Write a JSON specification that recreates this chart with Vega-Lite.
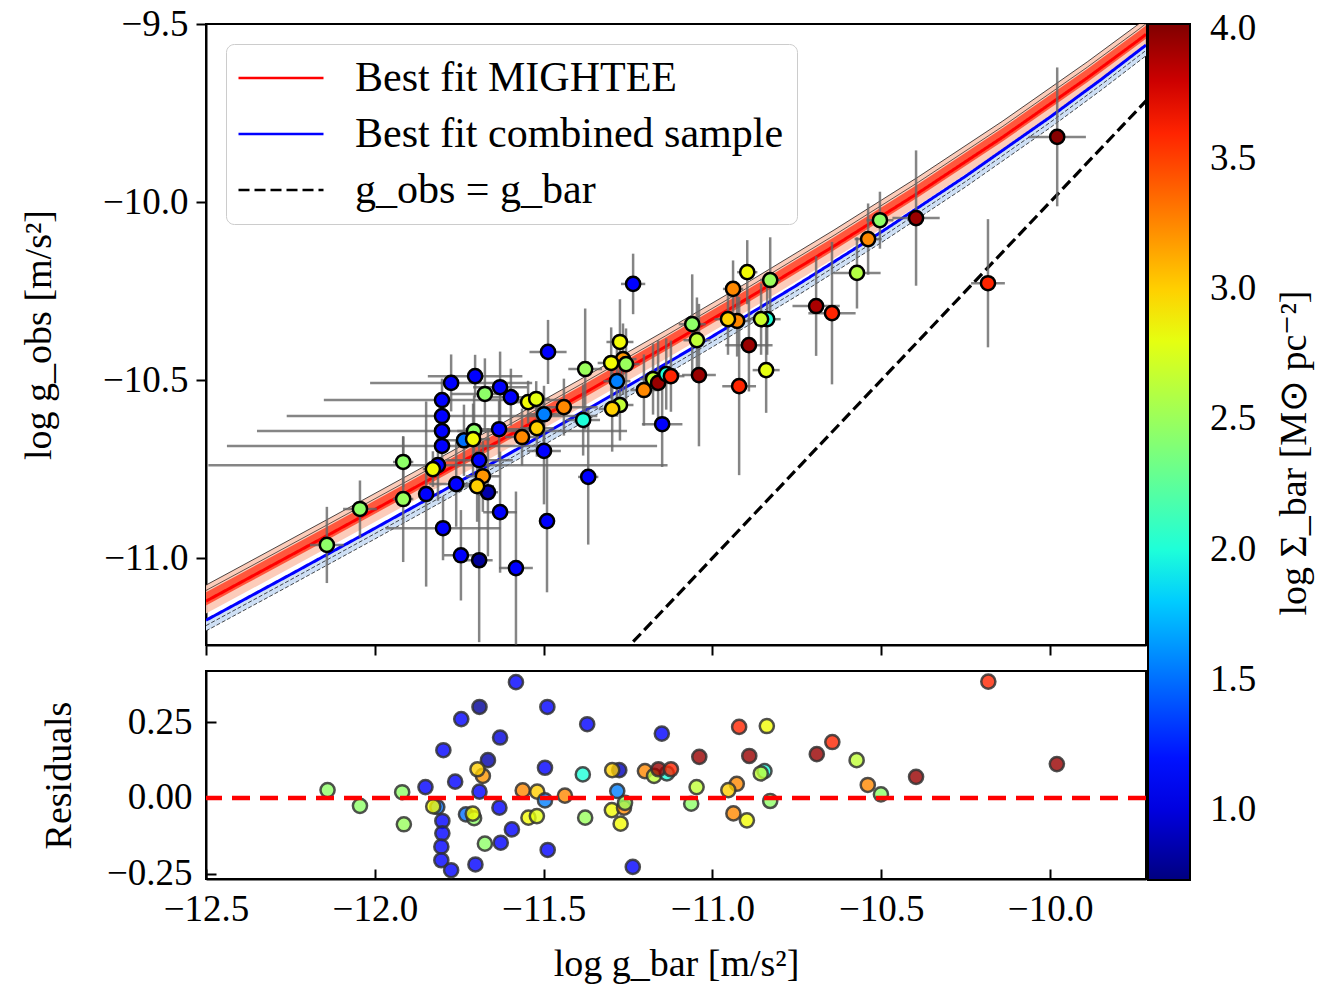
{
  "$schema": "https://vega.github.io/schema/vega-lite/v6.json",
  "background": "white",
  "padding": {"left": 19, "top": 4, "right": 5, "bottom": 5},
  "config": {
    "font": "Liberation Serif",
    "view": {"stroke": "black", "strokeWidth": 2},
    "axis": {"domainColor": "black", "domainWidth": 2, "tickColor": "black", "tickWidth": 2, "labelColor": "black", "titleColor": "black", "labelFontSize": 37, "titleFontSize": 38, "titleFontWeight": "normal", "grid": false, "labelFlush": false},
    "legend": {"labelFont": "Liberation Serif", "titleFont": "Liberation Serif", "labelColor": "black", "titleColor": "black"}
  },
  "datasets": {
    "redfit": [
      {"x": -12.5, "y": -11.1208, "a": -11.0758, "b": -11.0908, "c": -11.1558, "d": -11.0958, "e": -11.1328},
      {"x": -12.39, "y": -11.0645, "a": -11.0195, "b": -11.0345, "c": -11.0995, "d": -11.0395, "e": -11.0765},
      {"x": -12.14, "y": -10.9361, "a": -10.8911, "b": -10.9061, "c": -10.9711, "d": -10.9111, "e": -10.9481},
      {"x": -11.89, "y": -10.8064, "a": -10.7614, "b": -10.7764, "c": -10.8414, "d": -10.7814, "e": -10.8184},
      {"x": -11.64, "y": -10.6753, "a": -10.6303, "b": -10.6453, "c": -10.7103, "d": -10.6503, "e": -10.6873},
      {"x": -11.39, "y": -10.5422, "a": -10.4972, "b": -10.5122, "c": -10.5772, "d": -10.5172, "e": -10.5542},
      {"x": -11.14, "y": -10.4064, "a": -10.3614, "b": -10.3764, "c": -10.4414, "d": -10.3814, "e": -10.4184},
      {"x": -10.89, "y": -10.2672, "a": -10.2222, "b": -10.2372, "c": -10.3022, "d": -10.2422, "e": -10.2792},
      {"x": -10.64, "y": -10.1236, "a": -10.0786, "b": -10.0936, "c": -10.1586, "d": -10.0986, "e": -10.1356},
      {"x": -10.39, "y": -9.9741, "a": -9.9291, "b": -9.9441, "c": -10.0091, "d": -9.9491, "e": -9.9861},
      {"x": -10.14, "y": -9.8173, "a": -9.7723, "b": -9.7873, "c": -9.8523, "d": -9.7923, "e": -9.8293},
      {"x": -9.89, "y": -9.6514, "a": -9.6064, "b": -9.6214, "c": -9.6864, "d": -9.6264, "e": -9.6634},
      {"x": -9.74, "y": -9.5466, "a": -9.5016, "b": -9.5166, "c": -9.5816, "d": -9.5216, "e": -9.5586},
      {"x": -9.716, "y": -9.5291, "a": -9.4841, "b": -9.4991, "c": -9.5641, "d": -9.5041, "e": -9.5411}
    ],
    "bluefit": [
      {"x": -12.5, "y": -11.1745, "p": -11.1895, "q": -11.2045},
      {"x": -12.25, "y": -11.0461, "p": -11.0611, "q": -11.0761},
      {"x": -12.0, "y": -10.9164, "p": -10.9314, "q": -10.9464},
      {"x": -11.75, "y": -10.7853, "p": -10.8003, "q": -10.8153},
      {"x": -11.5, "y": -10.6522, "p": -10.6672, "q": -10.6822},
      {"x": -11.25, "y": -10.5164, "p": -10.5314, "q": -10.5464},
      {"x": -11.0, "y": -10.3772, "p": -10.3922, "q": -10.4072},
      {"x": -10.75, "y": -10.2336, "p": -10.2486, "q": -10.2636},
      {"x": -10.5, "y": -10.0841, "p": -10.0991, "q": -10.1141},
      {"x": -10.25, "y": -9.9273, "p": -9.9423, "q": -9.9573},
      {"x": -10.0, "y": -9.7614, "p": -9.7764, "q": -9.7914},
      {"x": -9.85, "y": -9.6566, "p": -9.6716, "q": -9.6866},
      {"x": -9.716, "y": -9.5592, "p": -9.5742, "q": -9.5892}
    ],
    "oneone": [
      {"x": -11.3, "y": -11.3},
      {"x": -9.7, "y": -9.7}
    ],
    "pts": [
      {"x": -12.142, "y": -10.963, "s": 2.45, "ex": 0.05, "ey": 0.107},
      {"x": -12.044, "y": -10.862, "s": 2.45, "ex": 0.05, "ey": 0.08},
      {"x": -11.916, "y": -10.730, "s": 2.45, "ex": 0.03, "ey": 0.07},
      {"x": -11.916, "y": -10.834, "s": 2.5, "ex": 0.03, "ey": 0.177},
      {"x": -11.848, "y": -10.820, "s": 1.12, "ex": 0.0, "ey": 0.26},
      {"x": -11.813, "y": -10.739, "s": 1.12, "ex": 0.68, "ey": 0.1},
      {"x": -11.828, "y": -10.750, "s": 2.85, "ex": 0.03, "ey": 0.05},
      {"x": -11.801, "y": -10.685, "s": 1.12, "ex": 0.637, "ey": 0.06},
      {"x": -11.801, "y": -10.643, "s": 1.12, "ex": 0.548, "ey": 0.06},
      {"x": -11.801, "y": -10.601, "s": 1.12, "ex": 0.46, "ey": 0.06},
      {"x": -11.801, "y": -10.556, "s": 1.12, "ex": 0.35, "ey": 0.06},
      {"x": -11.774, "y": -10.508, "s": 1.12, "ex": 0.24, "ey": 0.08},
      {"x": -11.759, "y": -10.792, "s": 1.12, "ex": 0.08, "ey": 0.12},
      {"x": -11.798, "y": -10.916, "s": 1.12, "ex": 0.17, "ey": 0.09},
      {"x": -11.745, "y": -10.992, "s": 1.12, "ex": 0.05, "ey": 0.127},
      {"x": -11.691, "y": -11.006, "s": 0.8, "ex": 0.04, "ey": 0.23},
      {"x": -11.582, "y": -11.028, "s": 1.12, "ex": 0.05, "ey": 0.215},
      {"x": -11.629, "y": -10.871, "s": 1.12, "ex": 0.05, "ey": 0.17},
      {"x": -11.490, "y": -10.896, "s": 1.12, "ex": 0.0, "ey": 0.2},
      {"x": -11.368, "y": -10.772, "s": 1.12, "ex": 0.03, "ey": 0.19},
      {"x": -11.499, "y": -10.699, "s": 1.12, "ex": 0.05, "ey": 0.15},
      {"x": -11.487, "y": -10.421, "s": 1.12, "ex": 0.055, "ey": 0.09},
      {"x": -11.235, "y": -10.230, "s": 1.12, "ex": 0.036, "ey": 0.085},
      {"x": -11.703, "y": -10.489, "s": 1.12, "ex": 0.14, "ey": 0.06},
      {"x": -11.674, "y": -10.539, "s": 2.45, "ex": 0.1, "ey": 0.1},
      {"x": -11.629, "y": -10.520, "s": 1.12, "ex": 0.08, "ey": 0.1},
      {"x": -11.597, "y": -10.548, "s": 1.12, "ex": 0.06, "ey": 0.08},
      {"x": -11.546, "y": -10.562, "s": 2.85, "ex": 0.04, "ey": 0.06},
      {"x": -11.522, "y": -10.553, "s": 2.8, "ex": 0.04, "ey": 0.05},
      {"x": -11.499, "y": -10.596, "s": 1.55, "ex": 0.05, "ey": 0.08},
      {"x": -11.440, "y": -10.576, "s": 3.25, "ex": 0.1, "ey": 0.08},
      {"x": -11.520, "y": -10.635, "s": 3.0, "ex": 0.05, "ey": 0.08},
      {"x": -11.564, "y": -10.660, "s": 3.25, "ex": 0.05, "ey": 0.08},
      {"x": -11.632, "y": -10.638, "s": 1.12, "ex": 0.1, "ey": 0.08},
      {"x": -11.706, "y": -10.643, "s": 2.45, "ex": 0.05, "ey": 0.1},
      {"x": -11.736, "y": -10.669, "s": 1.5, "ex": 0.05, "ey": 0.1},
      {"x": -11.709, "y": -10.666, "s": 2.85, "ex": 0.05, "ey": 0.1},
      {"x": -11.691, "y": -10.725, "s": 1.12, "ex": 0.1, "ey": 0.1},
      {"x": -11.680, "y": -10.770, "s": 3.2, "ex": 0.05, "ey": 0.1},
      {"x": -11.665, "y": -10.815, "s": 0.85, "ex": 0.03, "ey": 0.18},
      {"x": -11.697, "y": -10.798, "s": 3.0, "ex": 0.05, "ey": 0.1},
      {"x": -11.377, "y": -10.469, "s": 2.5, "ex": 0.05, "ey": 0.17},
      {"x": -11.265, "y": -10.441, "s": 3.2, "ex": 0.04, "ey": 0.1},
      {"x": -11.274, "y": -10.393, "s": 2.85, "ex": 0.04, "ey": 0.12},
      {"x": -11.300, "y": -10.452, "s": 2.85, "ex": 0.04, "ey": 0.1},
      {"x": -11.256, "y": -10.455, "s": 2.5, "ex": 0.04, "ey": 0.1},
      {"x": -11.283, "y": -10.503, "s": 1.55, "ex": 0.04, "ey": 0.1},
      {"x": -11.383, "y": -10.612, "s": 2.0, "ex": 0.05, "ey": 0.1},
      {"x": -11.274, "y": -10.570, "s": 2.65, "ex": 0.04, "ey": 0.1},
      {"x": -11.297, "y": -10.581, "s": 3.0, "ex": 0.04, "ey": 0.12},
      {"x": -11.203, "y": -10.528, "s": 3.25, "ex": 0.04, "ey": 0.1},
      {"x": -11.176, "y": -10.497, "s": 2.65, "ex": 0.04, "ey": 0.1},
      {"x": -11.161, "y": -10.508, "s": 3.95, "ex": 0.04, "ey": 0.12},
      {"x": -11.137, "y": -10.483, "s": 2.0, "ex": 0.04, "ey": 0.1},
      {"x": -11.123, "y": -10.489, "s": 3.6, "ex": 0.04, "ey": 0.1},
      {"x": -11.040, "y": -10.486, "s": 3.95, "ex": 0.05, "ey": 0.2},
      {"x": -11.149, "y": -10.624, "s": 1.12, "ex": 0.06, "ey": 0.12},
      {"x": -11.060, "y": -10.343, "s": 2.45, "ex": 0.04, "ey": 0.14},
      {"x": -11.046, "y": -10.388, "s": 2.65, "ex": 0.04, "ey": 0.12},
      {"x": -10.927, "y": -10.334, "s": 3.25, "ex": 0.04, "ey": 0.1},
      {"x": -10.954, "y": -10.329, "s": 3.0, "ex": 0.04, "ey": 0.1},
      {"x": -10.897, "y": -10.197, "s": 2.85, "ex": 0.03, "ey": 0.09},
      {"x": -10.939, "y": -10.244, "s": 3.25, "ex": 0.03, "ey": 0.08},
      {"x": -10.829, "y": -10.219, "s": 2.5, "ex": 0.03, "ey": 0.12},
      {"x": -10.838, "y": -10.329, "s": 2.0, "ex": 0.04, "ey": 0.1},
      {"x": -10.856, "y": -10.329, "s": 2.7, "ex": 0.04, "ey": 0.1},
      {"x": -10.892, "y": -10.402, "s": 3.95, "ex": 0.07, "ey": 0.13},
      {"x": -10.841, "y": -10.472, "s": 2.8, "ex": 0.04, "ey": 0.12},
      {"x": -10.921, "y": -10.517, "s": 3.6, "ex": 0.05, "ey": 0.25},
      {"x": -10.693, "y": -10.292, "s": 3.9, "ex": 0.07, "ey": 0.14},
      {"x": -10.646, "y": -10.312, "s": 3.6, "ex": 0.07, "ey": 0.2},
      {"x": -10.572, "y": -10.199, "s": 2.6, "ex": 0.07, "ey": 0.1},
      {"x": -10.539, "y": -10.104, "s": 3.25, "ex": 0.04, "ey": 0.1},
      {"x": -10.504, "y": -10.051, "s": 2.45, "ex": 0.04, "ey": 0.08},
      {"x": -10.397, "y": -10.045, "s": 3.95, "ex": 0.07, "ey": 0.19},
      {"x": -10.184, "y": -10.228, "s": 3.6, "ex": 0.05, "ey": 0.18},
      {"x": -9.979, "y": -9.817, "s": 4.0, "ex": 0.085, "ey": 0.195}
    ],
    "res": [
      {"x": -12.140, "r": 0.026, "s": 2.45},
      {"x": -12.044, "r": -0.026, "s": 2.45},
      {"x": -11.919, "r": 0.019, "s": 2.45},
      {"x": -11.914, "r": -0.087, "s": 2.5},
      {"x": -11.850, "r": 0.036, "s": 1.12},
      {"x": -11.815, "r": -0.03, "s": 1.5},
      {"x": -11.827, "r": -0.028, "s": 2.85},
      {"x": -11.800, "r": -0.076, "s": 1.12},
      {"x": -11.800, "r": -0.117, "s": 1.12},
      {"x": -11.803, "r": -0.161, "s": 1.12},
      {"x": -11.803, "r": -0.206, "s": 1.12},
      {"x": -11.774, "r": -0.239, "s": 1.12},
      {"x": -11.797, "r": 0.158, "s": 1.12},
      {"x": -11.762, "r": 0.054, "s": 1.12},
      {"x": -11.744, "r": 0.261, "s": 1.12},
      {"x": -11.690, "r": 0.301, "s": 0.8},
      {"x": -11.665, "r": 0.125, "s": 0.85},
      {"x": -11.680, "r": 0.073, "s": 3.2},
      {"x": -11.696, "r": 0.095, "s": 3.0},
      {"x": -11.690, "r": 0.021, "s": 1.12},
      {"x": -11.730, "r": -0.054, "s": 1.5},
      {"x": -11.706, "r": -0.067, "s": 2.45},
      {"x": -11.710, "r": -0.052, "s": 2.85},
      {"x": -11.674, "r": -0.151, "s": 2.45},
      {"x": -11.702, "r": -0.22, "s": 1.12},
      {"x": -11.631, "r": -0.032, "s": 1.12},
      {"x": -11.629, "r": 0.2, "s": 1.0},
      {"x": -11.627, "r": -0.148, "s": 1.12},
      {"x": -11.594, "r": -0.104, "s": 1.12},
      {"x": -11.582, "r": 0.383, "s": 1.12},
      {"x": -11.562, "r": 0.025, "s": 3.25},
      {"x": -11.545, "r": -0.065, "s": 2.85},
      {"x": -11.520, "r": -0.06, "s": 2.8},
      {"x": -11.519, "r": 0.021, "s": 3.0},
      {"x": -11.496, "r": -0.008, "s": 1.55},
      {"x": -11.496, "r": 0.1, "s": 1.12},
      {"x": -11.489, "r": 0.301, "s": 1.12},
      {"x": -11.488, "r": -0.172, "s": 1.12},
      {"x": -11.437, "r": 0.008, "s": 3.25},
      {"x": -11.384, "r": 0.078, "s": 2.0},
      {"x": -11.377, "r": -0.065, "s": 2.5},
      {"x": -11.371, "r": 0.244, "s": 1.12},
      {"x": -11.276, "r": 0.092, "s": 0.9},
      {"x": -11.297, "r": 0.092, "s": 3.0},
      {"x": -11.282, "r": 0.023, "s": 1.55},
      {"x": -11.298, "r": -0.04, "s": 2.85},
      {"x": -11.262, "r": -0.032, "s": 3.25},
      {"x": -11.259, "r": -0.016, "s": 2.5},
      {"x": -11.272, "r": -0.085, "s": 2.85},
      {"x": -11.236, "r": -0.228, "s": 1.12},
      {"x": -11.150, "r": 0.213, "s": 1.12},
      {"x": -11.200, "r": 0.089, "s": 3.25},
      {"x": -11.173, "r": 0.073, "s": 2.65},
      {"x": -11.135, "r": 0.081, "s": 2.0},
      {"x": -11.160, "r": 0.095, "s": 3.95},
      {"x": -11.123, "r": 0.095, "s": 3.6},
      {"x": -11.039, "r": 0.136, "s": 3.95},
      {"x": -11.047, "r": 0.036, "s": 2.65},
      {"x": -11.063, "r": -0.019, "s": 2.45},
      {"x": -10.921, "r": 0.235, "s": 3.6},
      {"x": -10.839, "r": 0.238, "s": 2.85},
      {"x": -10.891, "r": 0.139, "s": 3.95},
      {"x": -10.846, "r": 0.089, "s": 2.0},
      {"x": -10.857, "r": 0.081, "s": 2.65},
      {"x": -10.928, "r": 0.047, "s": 3.25},
      {"x": -10.953, "r": 0.026, "s": 3.0},
      {"x": -10.938, "r": -0.051, "s": 3.25},
      {"x": -10.898, "r": -0.074, "s": 2.85},
      {"x": -10.829, "r": -0.01, "s": 2.45},
      {"x": -10.691, "r": 0.145, "s": 3.95},
      {"x": -10.645, "r": 0.185, "s": 3.6},
      {"x": -10.573, "r": 0.125, "s": 2.65},
      {"x": -10.540, "r": 0.043, "s": 3.25},
      {"x": -10.501, "r": 0.012, "s": 2.45},
      {"x": -10.397, "r": 0.07, "s": 3.95},
      {"x": -10.183, "r": 0.385, "s": 3.6},
      {"x": -9.980, "r": 0.112, "s": 3.95}
    ]
  },
  "spacing": 11,
  "resolve": {"scale": {"fill": "shared"}, "legend": {"fill": "shared"}},
  "vconcat": [
    {
      "width": 940,
      "height": 621,
      "layer": [
        {
          "data": {"name": "redfit"},
          "mark": {"type": "area", "clip": true, "color": "#fcc7b2", "opacity": 0.9},
          "encoding": {
            "x": {"field": "x", "type": "quantitative", "scale": {"domain": [-12.5, -9.716], "nice": false, "zero": false},
                  "axis": {"values": [-12.5, -12, -11.5, -11, -10.5, -10], "labels": false, "title": null, "tickSize": 10}},
            "y": {"field": "c", "type": "quantitative", "title": "log g_obs [m/s\u00b2]", "scale": {"domain": [-11.244, -9.5], "nice": false, "zero": false},
                  "axis": {"values": [-11, -10.5, -10, -9.5], "labelExpr": "replace(format(datum.value, '.1f'), '-', '\u2212')", "tickSize": 10, "labelPadding": 8, "titlePadding": 44}},
            "y2": {"field": "a"}
          }
        },
        {
          "data": {"name": "bluefit"},
          "mark": {"type": "area", "clip": true, "color": "#cfe0f5"},
          "encoding": {"x": {"field": "x", "type": "quantitative", "title": null}, "y": {"field": "q", "type": "quantitative", "title": "log g_obs [m/s\u00b2]"}, "y2": {"field": "y"}}
        },
        {
          "data": {"name": "redfit"},
          "mark": {"type": "area", "clip": true, "color": "#ff3a1e", "opacity": 0.8},
          "encoding": {"x": {"field": "x", "type": "quantitative", "title": null}, "y": {"field": "e", "type": "quantitative", "title": "log g_obs [m/s\u00b2]"}, "y2": {"field": "d"}}
        },
        {
          "data": {"name": "redfit"},
          "mark": {"type": "line", "clip": true, "color": "black", "strokeWidth": 0.7},
          "encoding": {"x": {"field": "x", "type": "quantitative", "title": null}, "y": {"field": "a", "type": "quantitative", "title": "log g_obs [m/s\u00b2]"}}
        },
        {
          "data": {"name": "redfit"},
          "mark": {"type": "line", "clip": true, "color": "black", "strokeWidth": 0.6},
          "encoding": {"x": {"field": "x", "type": "quantitative", "title": null}, "y": {"field": "b", "type": "quantitative", "title": "log g_obs [m/s\u00b2]"}}
        },
        {
          "data": {"name": "bluefit"},
          "mark": {"type": "line", "clip": true, "color": "black", "strokeWidth": 0.7, "strokeDash": [4, 2]},
          "encoding": {"x": {"field": "x", "type": "quantitative", "title": null}, "y": {"field": "p", "type": "quantitative", "title": "log g_obs [m/s\u00b2]"}}
        },
        {
          "data": {"name": "bluefit"},
          "mark": {"type": "line", "clip": true, "color": "black", "strokeWidth": 0.7, "strokeDash": [4, 2]},
          "encoding": {"x": {"field": "x", "type": "quantitative", "title": null}, "y": {"field": "q", "type": "quantitative", "title": "log g_obs [m/s\u00b2]"}}
        },
        {
          "data": {"name": "redfit"},
          "mark": {"type": "line", "clip": true, "strokeWidth": 3},
          "encoding": {
            "x": {"field": "x", "type": "quantitative", "title": null},
            "y": {"field": "y", "type": "quantitative", "title": "log g_obs [m/s\u00b2]"},
            "stroke": {"datum": "Best fit MIGHTEE", "type": "nominal",
              "scale": {"domain": ["Best fit MIGHTEE", "Best fit combined sample", "g_obs = g_bar"], "range": ["#ff0000", "#0000ff", "#000000"]},
              "legend": {"title": null, "orient": "top-left", "offset": 20, "symbolType": "M-2.5,0L2.5,0", "symbolSize": 1156, "symbolOffset": 21, "symbolFillColor": "transparent", "symbolStrokeWidth": 2.5, "labelFontSize": 42, "labelOffset": 53, "labelLimit": 800, "padding": 13, "rowPadding": 14, "fillColor": "white", "strokeColor": "#cccccc", "cornerRadius": 8}},
            "strokeDash": {"datum": "Best fit MIGHTEE", "type": "nominal",
              "scale": {"domain": ["Best fit MIGHTEE", "Best fit combined sample", "g_obs = g_bar"], "range": [[1, 0], [1, 0], [11, 5]]},
              "legend": {"title": null, "orient": "top-left", "offset": 20, "symbolType": "M-2.5,0L2.5,0", "symbolSize": 1156, "symbolOffset": 21, "symbolFillColor": "transparent", "symbolStrokeWidth": 2.5, "labelFontSize": 42, "labelOffset": 53, "labelLimit": 800, "padding": 13, "rowPadding": 14, "fillColor": "white", "strokeColor": "#cccccc", "cornerRadius": 8}}
          }
        },
        {
          "data": {"name": "bluefit"},
          "mark": {"type": "line", "clip": true, "strokeWidth": 3},
          "encoding": {
            "x": {"field": "x", "type": "quantitative", "title": null},
            "y": {"field": "y", "type": "quantitative", "title": "log g_obs [m/s\u00b2]"},
            "stroke": {"datum": "Best fit combined sample", "type": "nominal"},
            "strokeDash": {"datum": "Best fit combined sample", "type": "nominal"}
          }
        },
        {
          "data": {"name": "oneone"},
          "mark": {"type": "line", "clip": true, "strokeWidth": 3.2},
          "encoding": {
            "x": {"field": "x", "type": "quantitative", "title": null},
            "y": {"field": "y", "type": "quantitative", "title": "log g_obs [m/s\u00b2]"},
            "stroke": {"datum": "g_obs = g_bar", "type": "nominal"},
            "strokeDash": {"datum": "g_obs = g_bar", "type": "nominal"}
          }
        },
        {
          "data": {"name": "pts"},
          "mark": {"type": "errorbar", "color": "#666666", "thickness": 2.5, "opacity": 0.8},
          "encoding": {"x": {"field": "x", "type": "quantitative", "title": null}, "y": {"field": "y", "type": "quantitative", "title": "log g_obs [m/s\u00b2]"}, "yError": {"field": "ey"}}
        },
        {
          "data": {"name": "pts"},
          "mark": {"type": "errorbar", "color": "#666666", "thickness": 2.5, "opacity": 0.8},
          "encoding": {"x": {"field": "x", "type": "quantitative", "title": null}, "y": {"field": "y", "type": "quantitative", "title": "log g_obs [m/s\u00b2]"}, "xError": {"field": "ex"}}
        },
        {
          "data": {"name": "pts"},
          "mark": {"type": "circle", "size": 200, "stroke": "black", "strokeWidth": 2.5, "opacity": 1},
          "encoding": {
            "x": {"field": "x", "type": "quantitative", "title": null},
            "y": {"field": "y", "type": "quantitative", "title": "log g_obs [m/s\u00b2]"},
            "fill": {"field": "s", "type": "quantitative",
              "scale": {"domain": [0.73, 1.092, 1.141, 1.849, 1.882, 1.964, 2.836, 2.869, 2.901, 3.658, 3.724, 4.02], "range": ["#000080", "#0000ff", "#0000ff", "#00dbff", "#00e6f7", "#15ffe2", "#eeff08", "#f7f500", "#ffec00", "#ff1300", "#e80000", "#800000"], "interpolate": "rgb"},
              "legend": {"title": "log \u03a3_bar [M\u2299 pc\u207b\u00b2]", "orient": "right", "direction": "vertical", "gradientLength": 856, "gradientThickness": 42, "gradientStrokeColor": "black", "gradientStrokeWidth": 2, "values": [1, 1.5, 2, 2.5, 3, 3.5, 4], "format": ".1f", "labelFontSize": 37, "labelOffset": 20, "labelOverlap": false, "titleOrient": "right", "titleFontSize": 38, "titleFontWeight": "normal", "titleAnchor": "middle", "titleLimit": 1000, "titlePadding": 20, "offset": -2, "padding": 0,
                "encode": {"title": {"update": {"angle": {"value": 270}, "baseline": {"value": "top"}}}}}}
          }
        }
      ]
    },
    {
      "width": 940,
      "height": 208,
      "layer": [
        {
          "data": {"name": "res"},
          "mark": {"type": "circle", "size": 200, "stroke": "#333333", "strokeWidth": 2.5, "fillOpacity": 0.8, "strokeOpacity": 0.85},
          "encoding": {
            "x": {"field": "x", "type": "quantitative", "scale": {"domain": [-12.5, -9.716], "nice": false, "zero": false},
                  "axis": {"values": [-12.5, -12, -11.5, -11, -10.5, -10], "labelExpr": "replace(format(datum.value, '.1f'), '-', '\u2212')", "tickSize": -10, "labelPadding": 22, "title": "log g_bar [m/s\u00b2]", "titlePadding": 18}},
            "y": {"field": "r", "type": "quantitative", "scale": {"domain": [-0.268, 0.42], "nice": false, "zero": false},
                  "axis": {"values": [-0.25, 0, 0.25], "labelExpr": "replace(format(datum.value, '.2f'), '-', '\u2212')", "tickSize": -10, "labelPadding": 24, "title": "Residuals", "titlePadding": 28}},
            "fill": {"field": "s", "type": "quantitative",
              "scale": {"domain": [0.73, 1.092, 1.141, 1.849, 1.882, 1.964, 2.836, 2.869, 2.901, 3.658, 3.724, 4.02], "range": ["#000080", "#0000ff", "#0000ff", "#00dbff", "#00e6f7", "#15ffe2", "#eeff08", "#f7f500", "#ffec00", "#ff1300", "#e80000", "#800000"], "interpolate": "rgb"},
              "legend": {"title": "log \u03a3_bar [M\u2299 pc\u207b\u00b2]", "orient": "right", "direction": "vertical", "gradientLength": 856, "gradientThickness": 42, "gradientStrokeColor": "black", "gradientStrokeWidth": 2, "values": [1, 1.5, 2, 2.5, 3, 3.5, 4], "format": ".1f", "labelFontSize": 37, "labelOffset": 20, "labelOverlap": false, "titleOrient": "right", "titleFontSize": 38, "titleFontWeight": "normal", "titleAnchor": "middle", "titleLimit": 1000, "titlePadding": 20, "offset": -2, "padding": 0,
                "encode": {"title": {"update": {"angle": {"value": 270}, "baseline": {"value": "top"}}}}}}
          }
        },
        {
          "data": {"values": [{"r": 0}]},
          "mark": {"type": "rule", "color": "#ff0000", "strokeWidth": 4.5, "strokeDash": [18, 10]},
          "encoding": {"y": {"field": "r", "type": "quantitative"}}
        }
      ]
    }
  ]
}
